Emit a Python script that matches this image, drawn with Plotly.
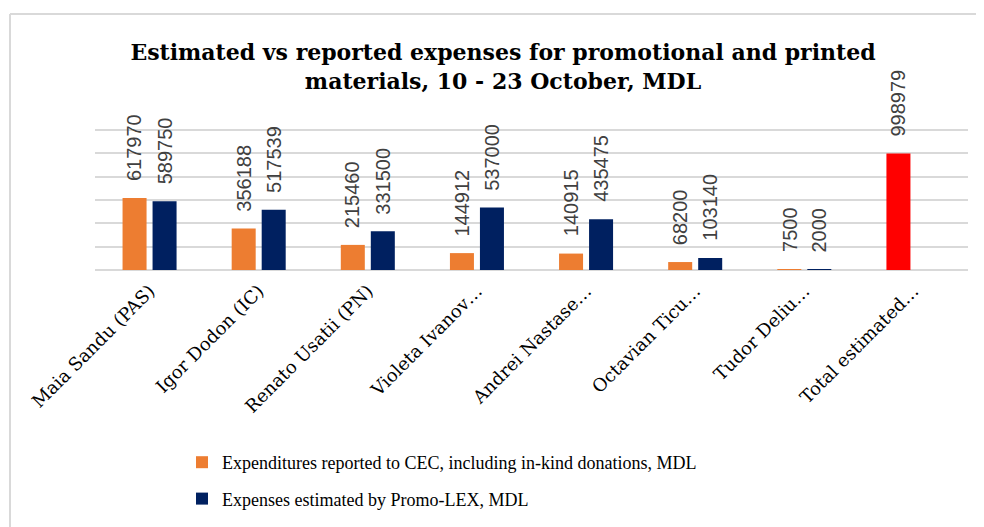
import plotly.graph_objects as go

categories = ["Maia Sandu (PAS)", "Igor Dodon (IC)", "Renato Usatii (PN)", "Violeta Ivanov…",
              "Andrei Nastase…", "Octavian Ticu…", "Tudor Deliu…", "Total estimated…"]
reported = [617970, 356188, 215460, 144912, 140915, 68200, 7500, 998979]
estimated = [589750, 517539, 331500, 537000, 435475, 103140, 2000, None]
name_reported = "Expenditures reported to CEC, including in-kind donations, MDL"
name_estimated = "Expenses estimated by Promo-LEX, MDL"

ORANGE = "#ED7D31"
NAVY = "#002060"
RED = "#FF0000"
reported_colors = [ORANGE] * (len(categories) - 1) + [RED]

# figure coordinates (the page body adds an 8px offset)
W, H = 984, 527
ML, MR, MT, MB = 87, 24, 121, 265
PW = W - ML - MR
PH = H - MT - MB

def px_x(p):
    return (p - ML) / PW

def px_y(p):
    return (H - MB - p) / PH

fig = go.Figure()
fig.add_trace(go.Bar(x=categories, y=reported, name=name_reported,
                     marker=dict(color=reported_colors, line=dict(width=0)),
                     legendgroup="a"))
fig.add_trace(go.Bar(x=categories, y=estimated, name=name_estimated,
                     marker=dict(color=NAVY, line=dict(width=0)),
                     legendgroup="b"))

label_font = dict(family="Liberation Sans", size=20, color="#404040")
annotations = []
for c, v in zip(categories, reported):
    if v is not None:
        annotations.append(dict(x=c, y=v, text=str(v), showarrow=False, textangle=-90,
                                xshift=-15, yshift=15, yanchor="bottom", xanchor="center",
                                font=label_font))
for c, v in zip(categories, estimated):
    if v is not None:
        annotations.append(dict(x=c, y=v, text=str(v), showarrow=False, textangle=-90,
                                xshift=15, yshift=15, yanchor="bottom", xanchor="center",
                                font=label_font))

shapes = [
    dict(type="line", xref="paper", yref="paper", x0=px_x(2), x1=px_x(984), y0=px_y(6), y1=px_y(6),
         line=dict(color="#D9D9D9", width=2)),
    dict(type="line", xref="paper", yref="paper", x0=px_x(2), x1=px_x(2), y0=px_y(6), y1=px_y(527),
         line=dict(color="#D9D9D9", width=2)),
]

fig.update_layout(
    width=W, height=H,
    margin=dict(l=ML, r=MR, t=MT, b=MB, autoexpand=False),
    paper_bgcolor="white", plot_bgcolor="white",
    barmode="group", bargap=0.45, bargroupgap=0.2,
    title=dict(text="Estimated vs reported expenses for promotional and printed<br>materials, 10 - 23 October, MDL",
               x=495 / W, xanchor="center", y=1 - 52 / H, yanchor="top",
               font=dict(family="DejaVu Serif", size=22, color="#000000", weight="bold")),
    xaxis=dict(tickangle=-45, showgrid=False, showline=False, ticks="", automargin=False,
               tickfont=dict(family="DejaVu Serif", size=18, color="#000000"),
               ticklabelstandoff=6),
    yaxis=dict(range=[0, 1210000], dtick=200000, showticklabels=False, ticks="", automargin=False,
               showgrid=True, gridcolor="#D9D9D9", gridwidth=2,
               zeroline=True, zerolinecolor="#D9D9D9", zerolinewidth=2, showline=False),
    legend=dict(orientation="v", x=174 / W, xanchor="left", xref="container",
                y=1 - 436 / H, yanchor="top", yref="container",
                font=dict(family="Liberation Serif", size=18, color="#000000"),
                tracegroupgap=10, itemwidth=30, bgcolor="rgba(0,0,0,0)"),
    annotations=annotations,
    shapes=shapes,
    showlegend=True,
)

fig.write_html("out.html")
